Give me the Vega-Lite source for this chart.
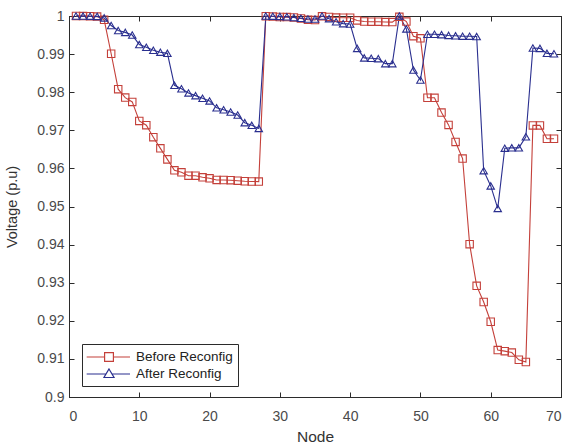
{
"$schema": "https://vega.github.io/schema/vega-lite/v6.json",
"width": 492, "height": 381,
"autosize": "none",
"padding": {"left": 69, "top": 16, "right": 8, "bottom": 49},
"background": "white",
"config": {"view": {"stroke": "#2b2b2b", "strokeWidth": 1}, "font": "Liberation Sans"},
"data": {"values": [
{"node":1,"series":"Before Reconfig","voltage":1.0},
{"node":2,"series":"Before Reconfig","voltage":0.99997},
{"node":3,"series":"Before Reconfig","voltage":0.99993},
{"node":4,"series":"Before Reconfig","voltage":0.99984},
{"node":5,"series":"Before Reconfig","voltage":0.99902},
{"node":6,"series":"Before Reconfig","voltage":0.99009},
{"node":7,"series":"Before Reconfig","voltage":0.98079},
{"node":8,"series":"Before Reconfig","voltage":0.97858},
{"node":9,"series":"Before Reconfig","voltage":0.97745},
{"node":10,"series":"Before Reconfig","voltage":0.97245},
{"node":11,"series":"Before Reconfig","voltage":0.97135},
{"node":12,"series":"Before Reconfig","voltage":0.96819},
{"node":13,"series":"Before Reconfig","voltage":0.96526},
{"node":14,"series":"Before Reconfig","voltage":0.96237},
{"node":15,"series":"Before Reconfig","voltage":0.9595},
{"node":16,"series":"Before Reconfig","voltage":0.95897},
{"node":17,"series":"Before Reconfig","voltage":0.95809},
{"node":18,"series":"Before Reconfig","voltage":0.95808},
{"node":19,"series":"Before Reconfig","voltage":0.95766},
{"node":20,"series":"Before Reconfig","voltage":0.9574},
{"node":21,"series":"Before Reconfig","voltage":0.95697},
{"node":22,"series":"Before Reconfig","voltage":0.95696},
{"node":23,"series":"Before Reconfig","voltage":0.9569},
{"node":24,"series":"Before Reconfig","voltage":0.95677},
{"node":25,"series":"Before Reconfig","voltage":0.95662},
{"node":26,"series":"Before Reconfig","voltage":0.95656},
{"node":27,"series":"Before Reconfig","voltage":0.95654},
{"node":28,"series":"Before Reconfig","voltage":0.99993},
{"node":29,"series":"Before Reconfig","voltage":0.99985},
{"node":30,"series":"Before Reconfig","voltage":0.99973},
{"node":31,"series":"Before Reconfig","voltage":0.99971},
{"node":32,"series":"Before Reconfig","voltage":0.99961},
{"node":33,"series":"Before Reconfig","voltage":0.99935},
{"node":34,"series":"Before Reconfig","voltage":0.99901},
{"node":35,"series":"Before Reconfig","voltage":0.99895},
{"node":36,"series":"Before Reconfig","voltage":0.99992},
{"node":37,"series":"Before Reconfig","voltage":0.99975},
{"node":38,"series":"Before Reconfig","voltage":0.99959},
{"node":39,"series":"Before Reconfig","voltage":0.99954},
{"node":40,"series":"Before Reconfig","voltage":0.99954},
{"node":41,"series":"Before Reconfig","voltage":0.99884},
{"node":42,"series":"Before Reconfig","voltage":0.99855},
{"node":43,"series":"Before Reconfig","voltage":0.99851},
{"node":44,"series":"Before Reconfig","voltage":0.9985},
{"node":45,"series":"Before Reconfig","voltage":0.99841},
{"node":46,"series":"Before Reconfig","voltage":0.9984},
{"node":47,"series":"Before Reconfig","voltage":0.99979},
{"node":48,"series":"Before Reconfig","voltage":0.99854},
{"node":49,"series":"Before Reconfig","voltage":0.9947},
{"node":50,"series":"Before Reconfig","voltage":0.99415},
{"node":51,"series":"Before Reconfig","voltage":0.97854},
{"node":52,"series":"Before Reconfig","voltage":0.97853},
{"node":53,"series":"Before Reconfig","voltage":0.97466},
{"node":54,"series":"Before Reconfig","voltage":0.97142},
{"node":55,"series":"Before Reconfig","voltage":0.96695},
{"node":56,"series":"Before Reconfig","voltage":0.96258},
{"node":57,"series":"Before Reconfig","voltage":0.94011},
{"node":58,"series":"Before Reconfig","voltage":0.92917},
{"node":59,"series":"Before Reconfig","voltage":0.92494},
{"node":60,"series":"Before Reconfig","voltage":0.91975},
{"node":61,"series":"Before Reconfig","voltage":0.91231},
{"node":62,"series":"Before Reconfig","voltage":0.91203},
{"node":63,"series":"Before Reconfig","voltage":0.91166},
{"node":64,"series":"Before Reconfig","voltage":0.90977},
{"node":65,"series":"Before Reconfig","voltage":0.90919},
{"node":66,"series":"Before Reconfig","voltage":0.97129},
{"node":67,"series":"Before Reconfig","voltage":0.97129},
{"node":68,"series":"Before Reconfig","voltage":0.96779},
{"node":69,"series":"Before Reconfig","voltage":0.96779},
{"node":1,"series":"After Reconfig","voltage":1.0},
{"node":2,"series":"After Reconfig","voltage":0.99998},
{"node":3,"series":"After Reconfig","voltage":0.99995},
{"node":4,"series":"After Reconfig","voltage":0.9999},
{"node":5,"series":"After Reconfig","voltage":0.9995},
{"node":6,"series":"After Reconfig","voltage":0.9975},
{"node":7,"series":"After Reconfig","voltage":0.9962},
{"node":8,"series":"After Reconfig","voltage":0.9957},
{"node":9,"series":"After Reconfig","voltage":0.995},
{"node":10,"series":"After Reconfig","voltage":0.9925},
{"node":11,"series":"After Reconfig","voltage":0.9918},
{"node":12,"series":"After Reconfig","voltage":0.991},
{"node":13,"series":"After Reconfig","voltage":0.9905},
{"node":14,"series":"After Reconfig","voltage":0.9902},
{"node":15,"series":"After Reconfig","voltage":0.9818},
{"node":16,"series":"After Reconfig","voltage":0.9809},
{"node":17,"series":"After Reconfig","voltage":0.9798},
{"node":18,"series":"After Reconfig","voltage":0.9791},
{"node":19,"series":"After Reconfig","voltage":0.9784},
{"node":20,"series":"After Reconfig","voltage":0.9777},
{"node":21,"series":"After Reconfig","voltage":0.9759},
{"node":22,"series":"After Reconfig","voltage":0.9754},
{"node":23,"series":"After Reconfig","voltage":0.9748},
{"node":24,"series":"After Reconfig","voltage":0.974},
{"node":25,"series":"After Reconfig","voltage":0.972},
{"node":26,"series":"After Reconfig","voltage":0.9713},
{"node":27,"series":"After Reconfig","voltage":0.9705},
{"node":28,"series":"After Reconfig","voltage":1.0},
{"node":29,"series":"After Reconfig","voltage":0.99995},
{"node":30,"series":"After Reconfig","voltage":0.9999},
{"node":31,"series":"After Reconfig","voltage":0.9998},
{"node":32,"series":"After Reconfig","voltage":0.9996},
{"node":33,"series":"After Reconfig","voltage":0.9994},
{"node":34,"series":"After Reconfig","voltage":0.9992},
{"node":35,"series":"After Reconfig","voltage":0.9992},
{"node":36,"series":"After Reconfig","voltage":1.0},
{"node":37,"series":"After Reconfig","voltage":0.9993},
{"node":38,"series":"After Reconfig","voltage":0.9985},
{"node":39,"series":"After Reconfig","voltage":0.998},
{"node":40,"series":"After Reconfig","voltage":0.9979},
{"node":41,"series":"After Reconfig","voltage":0.9915},
{"node":42,"series":"After Reconfig","voltage":0.989},
{"node":43,"series":"After Reconfig","voltage":0.9889},
{"node":44,"series":"After Reconfig","voltage":0.9888},
{"node":45,"series":"After Reconfig","voltage":0.9875},
{"node":46,"series":"After Reconfig","voltage":0.9875},
{"node":47,"series":"After Reconfig","voltage":1.0},
{"node":48,"series":"After Reconfig","voltage":0.9966},
{"node":49,"series":"After Reconfig","voltage":0.9858},
{"node":50,"series":"After Reconfig","voltage":0.9832},
{"node":51,"series":"After Reconfig","voltage":0.9952},
{"node":52,"series":"After Reconfig","voltage":0.9952},
{"node":53,"series":"After Reconfig","voltage":0.9951},
{"node":54,"series":"After Reconfig","voltage":0.9949},
{"node":55,"series":"After Reconfig","voltage":0.9948},
{"node":56,"series":"After Reconfig","voltage":0.9947},
{"node":57,"series":"After Reconfig","voltage":0.9947},
{"node":58,"series":"After Reconfig","voltage":0.9946},
{"node":59,"series":"After Reconfig","voltage":0.9594},
{"node":60,"series":"After Reconfig","voltage":0.9554},
{"node":61,"series":"After Reconfig","voltage":0.9495},
{"node":62,"series":"After Reconfig","voltage":0.9653},
{"node":63,"series":"After Reconfig","voltage":0.9654},
{"node":64,"series":"After Reconfig","voltage":0.9654},
{"node":65,"series":"After Reconfig","voltage":0.9683},
{"node":66,"series":"After Reconfig","voltage":0.9916},
{"node":67,"series":"After Reconfig","voltage":0.9915},
{"node":68,"series":"After Reconfig","voltage":0.9902},
{"node":69,"series":"After Reconfig","voltage":0.9901}
]},
"resolve": {"axis": {"x": "independent", "y": "independent"}, "scale": {"shape": "independent"}, "legend": {"shape": "independent", "color": "independent"}},
"layer": [
{
"mark": {"type": "line", "strokeWidth": 1.1},
"encoding": {
"x": {"field": "node", "type": "quantitative", "scale": {"domain": [0, 70], "nice": false},
"axis": {"orient": "bottom", "title": "Node", "values": [0,10,20,30,40,50,60,70], "grid": false, "domainColor": "#2b2b2b", "tickColor": "#2b2b2b", "tickSize": -5, "labelPadding": 17, "labelFontSize": 14, "labelColor": "#4a4a4a", "titleFontSize": 15.5, "titleFontWeight": "normal", "titleColor": "#333333", "titlePadding": 6}},
"y": {"field": "voltage", "type": "quantitative", "scale": {"domain": [0.9, 1], "nice": false, "zero": false},
"axis": {"orient": "left", "title": "Voltage (p.u)", "values": [0.9,0.91,0.92,0.93,0.94,0.95,0.96,0.97,0.98,0.99,1], "format": ".2~f", "grid": false, "domainColor": "#2b2b2b", "tickColor": "#2b2b2b", "tickSize": -5, "labelPadding": 10, "labelFontSize": 14, "labelColor": "#4a4a4a", "titleFontSize": 14.5, "titleFontWeight": "normal", "titleColor": "#333333", "titlePadding": 17}},
"color": {"field": "series", "type": "nominal", "scale": {"domain": ["Before Reconfig", "After Reconfig"], "range": ["#c4403a", "#2a2f8f"]}, "legend": null}
}
},
{
"mark": {"type": "point", "filled": false, "strokeWidth": 1.1, "opacity": 1},
"encoding": {
"x": {"field": "node", "type": "quantitative", "axis": {"orient": "top", "title": null, "labels": false, "values": [0,10,20,30,40,50,60,70], "grid": false, "domainColor": "#2b2b2b", "tickColor": "#2b2b2b", "tickSize": -5}},
"y": {"field": "voltage", "type": "quantitative", "axis": {"orient": "right", "title": null, "labels": false, "values": [0.9,0.91,0.92,0.93,0.94,0.95,0.96,0.97,0.98,0.99,1], "grid": false, "domainColor": "#2b2b2b", "tickColor": "#2b2b2b", "tickSize": -5}},
"color": {"field": "series", "type": "nominal", "legend": null},
"shape": {"field": "series", "type": "nominal", "scale": {"domain": ["Before Reconfig", "After Reconfig"], "range": ["square", "triangle-up"]}, "legend": null},
"size": {"value": 55}
}
},
{
"transform": [{"filter": "datum.node == 1"}],
"mark": {"type": "point", "filled": false, "strokeWidth": 1.2, "opacity": 0},
"encoding": {
"x": {"field": "node", "type": "quantitative", "axis": null},
"y": {"field": "voltage", "type": "quantitative", "axis": null},
"color": {"field": "series", "type": "nominal",
"legend": {"title": null, "orient": "none", "legendX": 13, "legendY": 328, "strokeColor": "#2b2b2b", "fillColor": "white", "padding": 5, "cornerRadius": 0, "labelFontSize": 13.5, "labelColor": "#222222", "labelOffset": 33, "rowPadding": 2, "symbolSize": 196, "symbolStrokeWidth": 1.2, "symbolOpacity": 1, "symbolFillColor": "transparent"}},
"shape": {"field": "series", "type": "nominal", "scale": {"domain": ["Before Reconfig", "After Reconfig"], "range": ["M-1.19,0H1.37M2.63,0H5M1.37,-0.63H2.63V0.63H1.37Z", "M-1.19,0H1.58M2.42,0H5M2,-0.72L2.72,0.5H1.28Z"]},
"legend": {"title": null, "orient": "none", "legendX": 13, "legendY": 328, "strokeColor": "#2b2b2b", "fillColor": "white", "padding": 5, "cornerRadius": 0, "labelFontSize": 13.5, "labelColor": "#222222", "labelOffset": 33, "rowPadding": 2, "symbolSize": 196, "symbolStrokeWidth": 1.2, "symbolOpacity": 1, "symbolFillColor": "transparent"}},
"size": {"value": 196}
}
}
]
}
